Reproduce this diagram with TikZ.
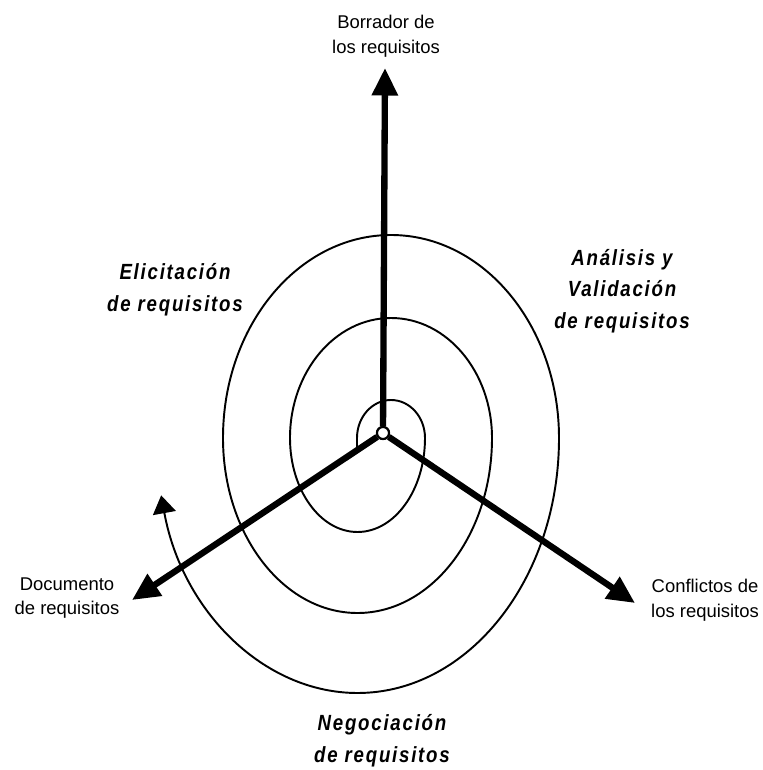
\documentclass[tikz,border=0pt]{standalone}
\usepackage{fontspec}
\setmainfont{Liberation Sans}
\newfontfamily\phasefont[LetterSpace=8, FakeStretch=0.85]{Liberation Sans}
\usetikzlibrary{arrows.meta}

\begin{document}
\begin{tikzpicture}[x=0.02cm, y=0.02cm,
    arm/.style={line width=3.6pt, -{Triangle[length=0.55cm, width=0.5cm]}},
    spiral/.style={line width=1.1pt, -{Triangle[length=0.36cm, width=0.46cm]}},
    lbl/.style={align=center, font=\fontsize{10.5}{14}\selectfont},
    phase/.style={align=center, font=\phasefont\bfseries\itshape\fontsize{12.5}{18}\selectfont}]
    \useasboundingbox (-383, -337) rectangle (379, 433);

    % espiral
    \draw[spiral] (-26, -15) -- (-26, -5)
        arc[start angle=180, end angle=0, x radius=34, y radius=38]
        arc[start angle=0, end angle=-180, x radius=67.5, y radius=94]
        arc[start angle=180, end angle=0, x radius=101, y radius=120]
        arc[start angle=0, end angle=-180, x radius=134.5, y radius=175]
        arc[start angle=180, end angle=0, x radius=168, y radius=203]
        arc[start angle=0, end angle=-167, x radius=201.5, y radius=255];

    \node[circle, draw, fill=white, inner sep=0pt, minimum size=0.24cm, line width=1.2pt] (hub) at (0, 0) {};

    \coordinate (top) at (2, 365);
    \coordinate (left) at (-251, -167);
    \coordinate (right) at (252, -170);

    \draw[arm] (hub) -- (top);
    \draw[arm] (hub) -- (left);
    \draw[arm] (hub) -- (right);
    \node[circle, draw, fill=white, inner sep=0pt, minimum size=0.24cm, line width=1.2pt] at (hub) {};

    % textos
    \node[lbl] (borrador) at (3, 397) {Borrador de\\los requisitos};
    \node[lbl] (documento) at (-316, -165) {Documento\\de requisitos};
    \node[lbl] (conflictos) at (322, -167) {Conflictos de\\los requisitos};

    \node[phase] (elicitacion) at (-208, 143) {Elicitación\\de requisitos};
    \node[phase] (analisis) at (239, 142) {Análisis y\\Validación\\de requisitos};
    \node[phase] (negociacion) at (-1, -308) {Negociación\\de requisitos};
\end{tikzpicture}
\end{document}
